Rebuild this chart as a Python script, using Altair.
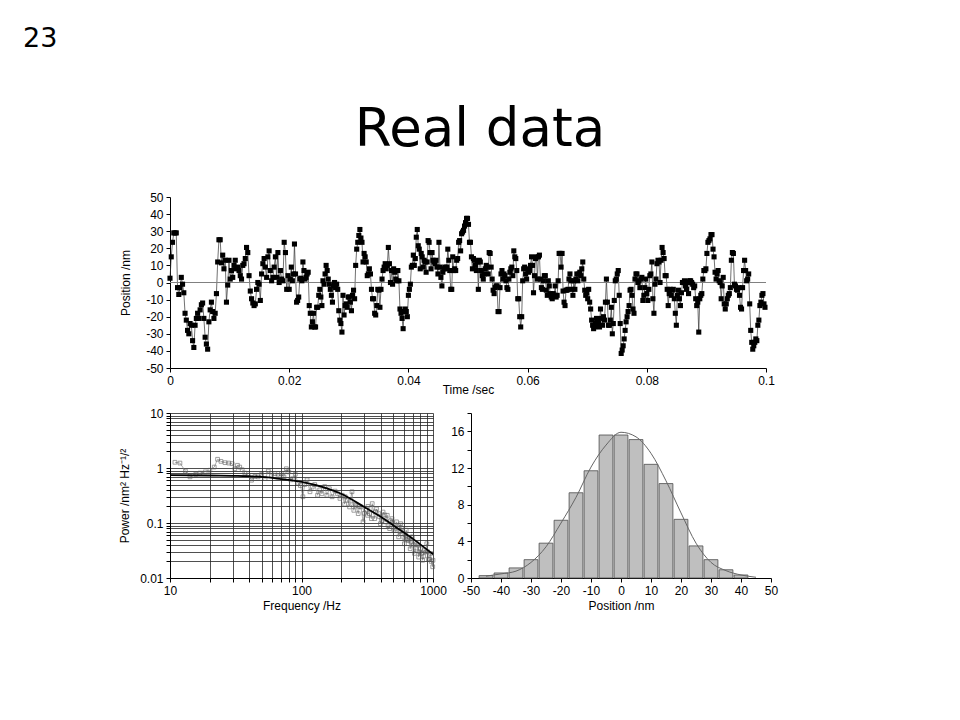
import altair as alt
import pandas as pd

# ---------------- data: time trace (nm), five 0.02 s segments ----------------
seg1 = [2.5, 15, 23.5, 29, 29, 29, -3, -7, -3, 3, -1, -6, -18, -22, -28, -30, -24, -25, -34, -38,
        -25, -21, -18, -21, -16, -13, -12, -21, -32, -36, -39, -23, -16, -11.5, -17, -21, -18, -6.5,
        12, 25, 25, 11.5, 16, 8, 13, -11.5, -1.5, 13, 2, 7, 3, 10, 13, 8, 9, 7, 4, 2, 10, 11, 14, 20.5,
        17.5, 4, -5, -9.5, -12, -13.5, -12.5, -4, 0, -1, -10.5, 5, 11, 14, 9, 3, 15, 18.5, 7, 1, 3, 9,
        15, 3, 17.5, 0, 7, 2, 1, 23.5, 17.5, -4, 4]
seg2 = [-4, 2, 9, 1, 5, 22.5, 5, -11.5, -10.5, -8.5, 2, 2.5, 1, 12, 7, 2, 3, 5, 6, -13.5, -18, -26,
        -23, -18, -26, -26, -14.5, -14.5, -7.5, -4, -8.5, -13.5, 1, -1, 5, 10, 7, 2, -1, -4, -7.5,
        -11.5, -2, 0, -3, -1, -4, -16.5, -22, -24, -29, -7.5, -19, -13.5, -12.5, -14.5, -8.5, -8.5,
        -11.5, -16.5, -7.5, -4.5, -9.5, 10, 19.5, 23.5, 27.5, 31, 26, 23.5, 12, 17, 15, 12, 4, 5, 8,
        5, -4, -9.5, -9.5, -18, -19, -13.5, -4, -4.5, -14.5, -4, 2, 7, 9, 11, 8, 10, 20.5, 11, 0, 7,
        -1, 8, 6, 2, 1, 7, 1, -15.5, -18, -21, -27, -17, -15.5, -17, -20]
seg3 = [-7.5, -4, -1, 9, 10, 16, 10, 14, 26.5, 31, 21.5, 19.5, 8, 17, 15, 9, 13, 12, 6, 12, 24.5,
        23.5, 17.5, 8, 17.5, 13, 12, 11, 13, 9, 5, 23.5, 9, 3, -2, 6, 8, 9, 8, 9, 19.5, 13, 7, -4, -4,
        15, 7, 8, 7, 13, 14, 23.5, 24.5, 18.5, 28.5, 29.5, 30.5, 33, 35, 37.5, 37.5, 34, 23.5, 23.5,
        15, 8, 14, 13, 10, 7, 12, -4, 13, 12, 7, 4, 2, 5, 8, 10, 9, 5, 17.5, 17, 9, 2, -4.5, -6.5, -3,
        -2, -2, -17, -17, -3, 5, 7, 2, 5, 4, 1, -3, -4, 2, 6, 8, 9, 4, 18.5, 15, 14, 7, -9.5, -9.5,
        -20, -26, -20, 1, 8, 9, 5, 2]
seg4 = [8, 6, 7, 10, 15, 10, -6, 4, 14, 15, 2, 15, 16, 2, -3, -4, 1, 4, 4, -4.5, -7.5, 1, -2, -6.5,
        -8.5, -9.5, -6.5, -7.5, -2, -8.5, -7.5, 1, 17, 17, 9, 17, -5, -11.5, -13.5, -4.5, -4.5, -4, 2,
        5, 1, -4, -7.5, 1, -4, 2, 5, 1, 5, 6, 4, 8, 12, 2, -4.5, -7.5, -6, -9.5, -4, -11.5, -15.5, -22,
        -25, -27, -26, -24, -21, -23, -24, -26, -15.5, -21, -25, -20, -22, -11.5, 2, -11.5, -25, -25,
        -22, -14.5, -30, -24, -10.5, 1, 2, 5, 7, -7.5, -24, -41.5, -39.5, -37, -33, -28, -23, -20,
        -17, -13.5, -4.5, -4, -7.5, -15.5, -18, 2, 5, 5, 0, 1, -3, 2, 3, -10.5, -7.5, -3, 2]
seg5 = [-6.5, -10.5, -4, 4, 5, 12, -9.5, -18, -1, 2, 11, 13, 12, 0, 13, 20.5, 17.5, 14, 4, 4, -4,
        -13.5, -6.5, -4, -7.5, -4.5, -4, -9.5, -18, -25, -7.5, -4.5, -9.5, -13.5, -6, 0, 0, 1, -2, -4,
        0, -6.5, 1, 1, 0, -1, -3, -2, -9.5, -13.5, -11.5, -29, -9.5, -7.5, -6.5, 2, 7, 7, 8, 17, 23.5,
        24.5, 25.5, 28, 28, 19.5, 15, 6, 2, 5, 7, 1, 0, -9.5, -2, 3, -12.5, -15.5, -12.5, -9.5, -7.5,
        -6.5, -3, 13, 17.5, 17, -1, -2, -4, -4.5, -3, -7.5, -14.5, -15.5, -3, 7, 13, 7, 1, 2, 5, -12.5,
        -28, -35, -39, -37, -35, -33, -34, -25, -22, -13.5, -11.5, -7.5, -6.5, -12.5, -14.5]
segments = [seg1, seg2, seg3, seg4, seg5]
segment_starts = [0.0, 0.02, 0.04, 0.06, 0.08]
segment_span = 0.02
time_ticks = [0, 0.02, 0.04, 0.06, 0.08, 0.1]
pos_ticks = [-50, -40, -30, -20, -10, 0, 10, 20, 30, 40, 50]
zero_line = [0]

# ---------------- data: power spectrum ----------------
spec_freq = [10.9, 11.9, 13.1, 14.2, 15.7, 16.9, 18.5, 20.1, 21.7, 23.0, 24.4, 26.2, 28.0, 29.7, 31.1,
             32.6, 33.9, 35.4, 37.1, 39.3, 41.7, 44.2, 46.8, 49.7, 52.8, 55.9, 59.1, 62.7, 66.4, 70.3,
             73.5, 76.7, 80.0, 82.9, 86.1, 89.7, 94.1, 98.0, 102.5, 105.7, 110.3, 116, 120.6, 126,
             132.5, 137.6, 143, 150, 156, 163, 171, 180, 188, 196, 204, 213, 215, 223, 232, 235, 242,
             250, 255, 259, 270, 275, 283, 294, 300, 307, 318, 320, 329, 340, 345, 360, 365, 372, 387,
             390, 398, 410, 417, 430, 434, 449, 455, 468, 475, 488, 495, 506, 515, 528, 540, 548, 560,
             568, 580, 587, 600, 606, 620, 625, 640, 649, 660, 671, 680, 697, 710, 723, 740, 749, 770,
             778, 790, 803, 820, 834, 850, 862, 880, 897, 910, 924, 940, 960, 970, 995, 1000]
spec_power = [1.27, 1.23, 0.88, 0.69, 0.77, 0.81, 0.85, 0.91, 1.04, 1.44, 1.32, 1.25, 1.23, 1.2, 0.97,
              1.12, 1.04, 0.93, 0.81, 0.74, 0.6, 0.7, 0.69, 0.77, 0.64, 0.88, 0.74, 0.79, 0.69, 0.79,
              0.69, 0.97, 0.85, 0.61, 0.64, 0.77, 0.53, 0.48, 0.30, 0.5, 0.61, 0.37, 0.45, 0.5,
              0.32, 0.4, 0.34, 0.46, 0.32, 0.42, 0.30, 0.38, 0.34, 0.28, 0.32, 0.22, 0.3, 0.26, 0.196,
              0.25, 0.37, 0.17, 0.22, 0.21, 0.148, 0.2, 0.196, 0.105, 0.15, 0.17, 0.138, 0.2, 0.148,
              0.12, 0.225, 0.12, 0.16, 0.18, 0.148, 0.13, 0.097, 0.11, 0.158, 0.14, 0.105, 0.138, 0.09,
              0.079, 0.11, 0.12, 0.1, 0.074, 0.08, 0.105, 0.085, 0.056, 0.07, 0.097, 0.08, 0.064,
              0.055, 0.042, 0.06, 0.074, 0.05, 0.048, 0.055, 0.034, 0.045, 0.056, 0.04, 0.028, 0.035,
              0.042, 0.04, 0.024, 0.03, 0.034, 0.028, 0.021, 0.025, 0.032, 0.03, 0.042, 0.03, 0.022,
              0.022, 0.028, 0.02, 0.016, 0.021]
fit_freq = [10, 20, 30, 50, 70, 100, 150, 200, 300, 400, 500, 700, 1000]
fit_power = [0.74, 0.73, 0.72, 0.69, 0.63, 0.56, 0.44, 0.34, 0.196, 0.13, 0.09, 0.052, 0.027]
freq_ticks = [10, 20, 30, 40, 50, 60, 70, 80, 90, 100, 200, 300, 400, 500, 600, 700, 800, 900, 1000]
power_ticks = [0.01, 0.02, 0.03, 0.04, 0.05, 0.06, 0.07, 0.08, 0.09, 0.1, 0.2, 0.3, 0.4, 0.5, 0.6,
               0.7, 0.8, 0.9, 1, 2, 3, 4, 5, 6, 7, 8, 9, 10]

# ---------------- data: histogram ----------------
bin_centers = [-45, -40, -35, -30, -25, -20, -15, -10, -5, 0, 5, 10, 15, 20, 25, 30, 35, 40]
bin_counts = [0.26, 0.55, 1.1, 2.0, 3.8, 6.3, 9.3, 11.7, 15.6, 15.6, 15.1, 12.4, 10.3, 6.4, 3.5,
              2.0, 0.9, 0.33]
curve_x = [-45, -40, -35, -30, -25, -20, -15, -10, -5, 0, 5, 10, 15, 20, 25, 30, 35, 40, 45]
curve_y = [0.2, 0.45, 0.75, 1.7, 3.4, 6.0, 8.8, 12.1, 14.5, 15.9, 15.4, 13.6, 10.6, 7.1, 3.8, 1.7,
           0.8, 0.33, 0.08]
hist_x_ticks = [-50, -40, -30, -20, -10, 0, 10, 20, 30, 40, 50]
hist_y_ticks = [0, 2, 4, 6, 8, 10, 12, 14, 16, 18]

page_number = ["23"]
slide_title = ["Real data"]

# ---------------- build tables ----------------
rows = []
for s0, seg in zip(segment_starts, segments):
    n = len(seg)
    for i, v in enumerate(seg):
        rows.append({"t": s0 + segment_span * i / n, "pos": v})
trace_df = pd.DataFrame(rows)
zero_df = pd.DataFrame({"y": zero_line})
spec_df = pd.DataFrame({"f": spec_freq, "p": spec_power}).sort_values("f")
fit_df = pd.DataFrame({"f": fit_freq, "p": fit_power})
BAR_HALF = 2.3
hist_df = pd.DataFrame({"c": bin_centers, "n": bin_counts})
hist_df["x0"] = hist_df["c"] - BAR_HALF
hist_df["x1"] = hist_df["c"] + BAR_HALF
hist_df["base"] = 0
curve_df = pd.DataFrame({"x": curve_x, "y": curve_y})

FONT = "Liberation Sans"
MINUS = "replace(datum.label, '\u2212', '-')"

def ax(**kw):
    base = dict(labelFont=FONT, labelFontSize=12, labelColor="black", titleFont=FONT,
                titleFontSize=12, titleFontWeight="normal", titleColor="black",
                domainColor="black", tickColor="black", tickSize=4, labelPadding=3,
                grid=False, labelFlush=False, labelOverlap=False, tickCount=200)
    base.update(kw)
    return alt.Axis(**base)

# ---------------- top panel ----------------
W1, H1 = 596, 171
xs = alt.X("t:Q", scale=alt.Scale(domain=[0, 0.1], nice=False, zero=False),
           axis=ax(values=time_ticks, format="~g", title="Time /sec", titlePadding=-2))
ys = alt.Y("pos:Q", scale=alt.Scale(domain=[-50, 50], nice=False),
           axis=ax(values=pos_ticks, format="d", title="Position /nm", titlePadding=13, labelExpr=MINUS))

trace_line = alt.Chart(trace_df).mark_line(color="#333333", strokeWidth=0.7).encode(x=xs, y=ys)
zero_rule = alt.Chart(zero_df).mark_rule(color="#808080", strokeWidth=1).encode(y=alt.Y("y:Q"))
trace_pts = alt.Chart(trace_df).mark_square(size=26, color="black", opacity=1).encode(x="t:Q", y="pos:Q")
num_text = alt.Chart(pd.DataFrame({"s": page_number})).mark_text(
    font="DejaVu Sans", fontSize=27, align="left", baseline="alphabetic", color="black"
).encode(text="s:N", x=alt.value(-147), y=alt.value(-150))
title_text = alt.Chart(pd.DataFrame({"s": slide_title})).mark_text(
    font="DejaVu Sans", fontSize=53, align="center", baseline="alphabetic", color="black"
).encode(text="s:N", x=alt.value(310), y=alt.value(-51))

top = alt.layer(trace_line, zero_rule, trace_pts, num_text, title_text).properties(width=W1, height=H1)

# ---------------- bottom-left: spectrum ----------------
W2, H2 = 263, 165
fx = alt.X("f:Q", scale=alt.Scale(type="log", domain=[10, 1000], nice=False),
           axis=ax(values=freq_ticks, title="Frequency /Hz", grid=True, gridColor="#222222",
                   gridWidth=0.8, gridOpacity=1, titlePadding=4,
                   labelExpr="datum.value == 10 || datum.value == 100 || datum.value == 1000 ? format(datum.value, 'd') : ''"))
fy = alt.Y("p:Q", scale=alt.Scale(type="log", domain=[0.01, 10], nice=False),
           axis=ax(values=power_ticks, title="Power /nm² Hz⁻¹/²", grid=True, gridColor="#222222",
                   gridWidth=0.8, gridOpacity=1, titlePadding=8,
                   labelExpr="datum.value == 0.01 || datum.value == 0.1 || datum.value == 1 || datum.value == 10 ? format(datum.value, '~g') : ''"))
spec_line = alt.Chart(spec_df).mark_line(color="#777777", strokeWidth=0.6).encode(x=fx, y=fy, order="f:Q")
spec_pts = alt.Chart(spec_df).mark_square(size=14, filled=False, color="#555555", strokeWidth=0.8).encode(x="f:Q", y="p:Q")
fit_line = alt.Chart(fit_df).mark_line(color="black", strokeWidth=1.8, interpolate="monotone").encode(x="f:Q", y="p:Q")
spectrum = alt.layer(spec_line, spec_pts, fit_line).properties(width=W2, height=H2)

# ---------------- bottom-right: histogram ----------------
W3, H3 = 300, 165
hx = alt.X("x0:Q", scale=alt.Scale(domain=[-50, 50], nice=False),
           axis=ax(values=hist_x_ticks, format="d", title="Position /nm", titlePadding=4, labelExpr=MINUS))
hy = alt.Y("n:Q", scale=alt.Scale(domain=[0, 18], nice=False),
           axis=ax(values=hist_y_ticks, format="d", title=None,
                   labelExpr="datum.value % 4 == 0 && datum.value < 18 ? datum.label : ''"))
bars = alt.Chart(hist_df).mark_rect(color="#bfbfbf", stroke="#4d4d4d", strokeWidth=0.8).encode(
    x=hx, x2="x1:Q", y=hy, y2="base:Q")
curve = alt.Chart(curve_df).mark_line(color="#666666", strokeWidth=1, interpolate="monotone").encode(
    x="x:Q", y="y:Q")
hist = alt.layer(bars, curve).properties(width=W3, height=H3)

bottom = alt.hconcat(spectrum, hist, spacing=38, bounds="flush")
chart = alt.vconcat(top, bottom, spacing=45, bounds="flush").properties(
    padding={"left": 15, "top": 17, "right": 5, "bottom": 5}, background="white"
).configure_view(strokeWidth=0, stroke=None)

chart.save("out.html", embed_options={"renderer": "svg", "actions": False})
